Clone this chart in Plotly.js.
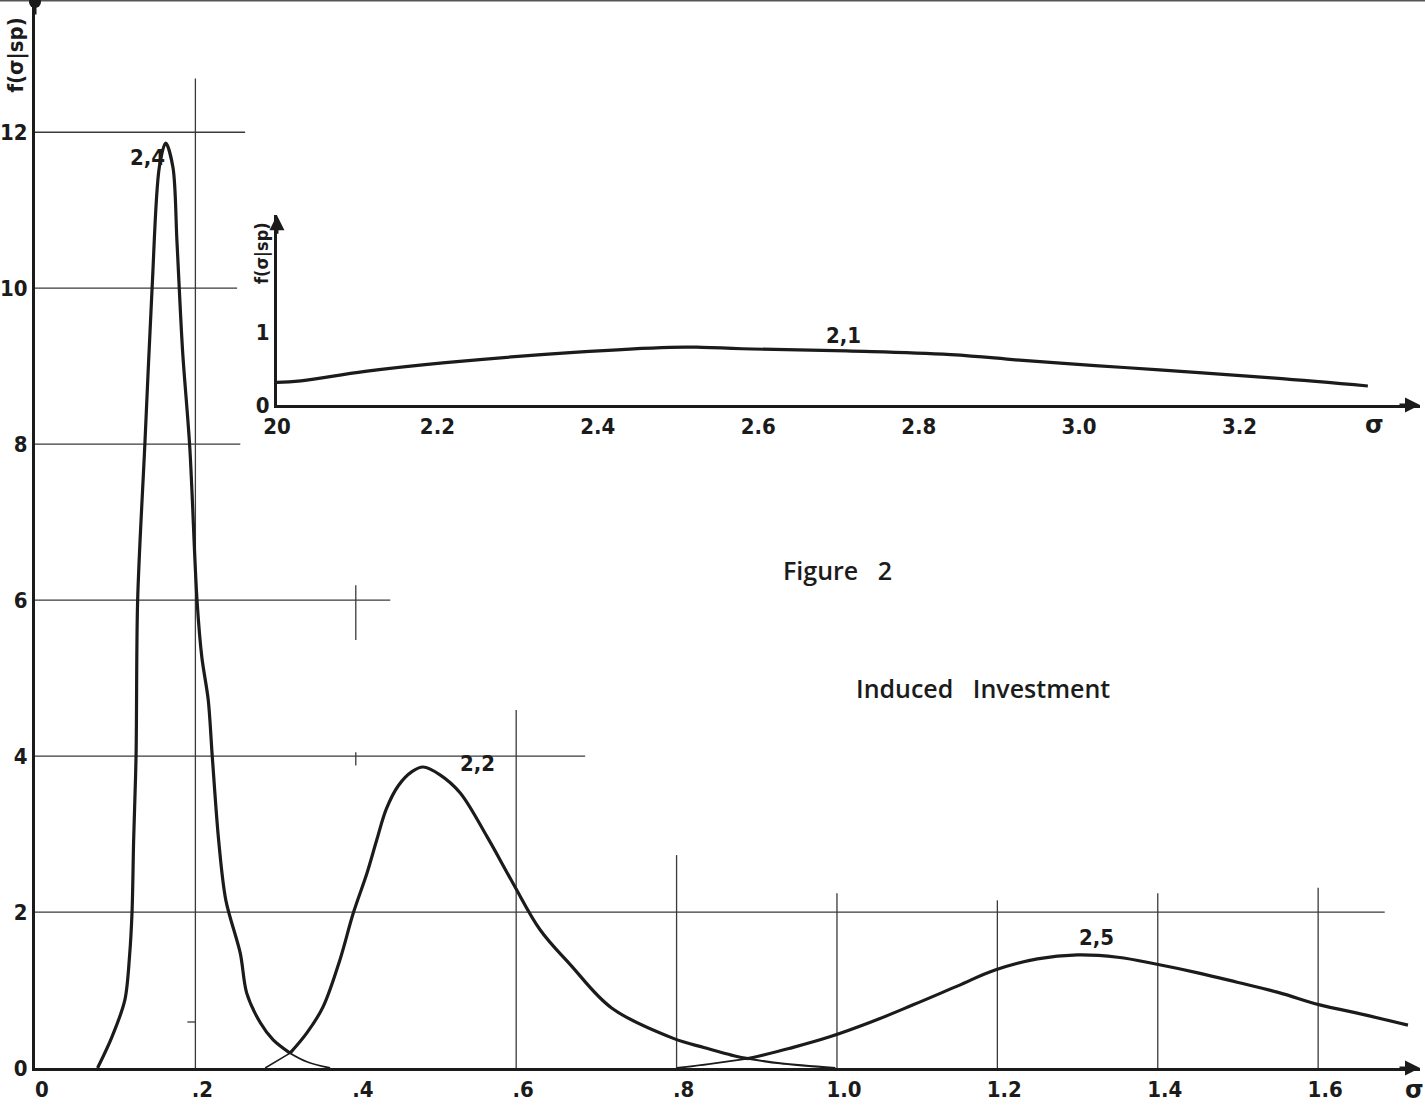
<!DOCTYPE html>
<html>
<head>
<meta charset="utf-8">
<script src="https://cdn.plot.ly/plotly-3.0.1.min.js"></script>
<style>
  html, body { margin: 0; padding: 0; background: #ffffff; }
  #chart { width: 1425px; height: 1105px; }
</style>
</head>
<body>
<div id="chart"></div>
<script>
// ---------- data ----------
// Curve 2.4 (main panel)
const x24 = [0.078, 0.096, 0.112, 0.118, 0.121, 0.123, 0.126, 0.128, 0.137, 0.146, 0.155, 0.163, 0.172, 0.177, 0.184, 0.193, 0.202, 0.208, 0.216, 0.221, 0.229, 0.238, 0.256, 0.264, 0.281, 0.297, 0.318, 0.339, 0.368];
const y24 = [0.0, 0.40, 0.87, 1.45, 2.0, 2.92, 4.0, 6.0, 8.0, 10.0, 11.55, 11.86, 11.55, 10.6, 9.2, 7.96, 6.0, 5.27, 4.72, 4.0, 2.92, 2.15, 1.47, 0.96, 0.58, 0.36, 0.19, 0.08, 0.0];
// Curve 2.2 (main panel)
const x22 = [0.287, 0.318, 0.339, 0.359, 0.380, 0.397, 0.414, 0.426, 0.438, 0.453, 0.470, 0.484, 0.505, 0.530, 0.564, 0.596, 0.630, 0.668, 0.719, 0.796, 0.835, 0.874, 0.889, 0.929, 0.998];
const y22 = [0.0, 0.19, 0.45, 0.78, 1.38, 1.99, 2.50, 2.92, 3.32, 3.62, 3.80, 3.86, 3.76, 3.53, 2.96, 2.37, 1.77, 1.32, 0.77, 0.38, 0.26, 0.15, 0.12, 0.06, 0.0];
// Curve 2.5 (main panel)
const x25 = [0.80, 0.84, 0.889, 0.94, 0.991, 1.04, 1.095, 1.15, 1.198, 1.25, 1.300, 1.35, 1.399, 1.45, 1.499, 1.55, 1.602, 1.646, 1.712];
const y25 = [0.0, 0.05, 0.12, 0.25, 0.40, 0.58, 0.81, 1.05, 1.26, 1.40, 1.45, 1.42, 1.33, 1.22, 1.10, 0.97, 0.81, 0.71, 0.55];
// Curve 2.1 (inset)
const x21 = [2.0, 2.03, 2.11, 2.21, 2.37, 2.49, 2.53, 2.58, 2.71, 2.84, 2.93, 3.02, 3.10, 3.24, 3.36];
const y21 = [0.31, 0.33, 0.46, 0.58, 0.72, 0.79, 0.79, 0.77, 0.74, 0.69, 0.61, 0.54, 0.48, 0.37, 0.26];

// tick labels
const mainXTicks = [0, 0.2, 0.4, 0.6, 0.8, 1.0, 1.2, 1.4, 1.6];
const mainXLabels = ['0', '.2', '.4', '.6', '.8', '1.0', '1.2', '1.4', '1.6'];
const mainYTicks = [0, 2, 4, 6, 8, 10, 12];
const mainYLabels = ['0', '2', '4', '6', '8', '10', '12'];
const insetXTicks = [2.0, 2.2, 2.4, 2.6, 2.8, 3.0, 3.2];
const insetXLabels = ['20', '2.2', '2.4', '2.6', '2.8', '3.0', '3.2'];
const insetYTicks = [0, 1];
const insetYLabels = ['0', '1'];

// curve labels
const curveNames = ['2,4', '2,2', '2,5', '2,1'];

// hand-drawn construction lines (value, extent)
const hGridY   = [12, 10, 8, 6, 4, 2];
const hGridEnd = [0.262, 0.252, 0.256, 0.443, 0.686, 1.683];
const vGridX   = [0.2, 0.6, 0.8, 1.0, 1.2, 1.4, 1.6];
const vGridTop = [12.69, 4.59, 2.73, 2.24, 2.15, 2.24, 2.31];

// ---------- drawing ----------
const INK = '#1b1b1b';
const GRID = '#3a3a3a';
const lblFont = {family: 'DejaVu Sans Condensed, DejaVu Sans, sans-serif', size: 22, color: INK, weight: 'bold'};
const textFont = {family: 'Open Sans, DejaVu Sans, sans-serif', size: 25, color: INK, weight: 600};

function seg(xs, ys, a, b, w, sm, axes) {
  return {
    x: xs.slice(a, b), y: ys.slice(a, b), type: 'scatter', mode: 'lines',
    line: {color: INK, width: w, shape: 'spline', smoothing: sm},
    xaxis: axes ? axes[0] : 'x', yaxis: axes ? axes[1] : 'y',
    hoverinfo: 'skip', showlegend: false
  };
}

const traces = [
  seg(x24, y24, 0, 27, 3.2, 0.9),
  seg(x24, y24, 26, x24.length, 1.8, 1.0),
  seg(x22, y22, 0, 2, 1.6, 1.0),
  seg(x22, y22, 1, 23, 3.2, 1.0),
  seg(x22, y22, 22, x22.length, 2.0, 1.0),
  seg(x25, y25, 0, 3, 1.8, 1.0),
  seg(x25, y25, 2, x25.length, 3.2, 1.2),
  seg(x21, y21, 0, x21.length, 3.2, 1.2, ['x2', 'y2'])
];

const shapes = [];
hGridY.forEach((v, i) => {
  shapes.push({type: 'line', xref: 'x', yref: 'y', x0: 0, x1: hGridEnd[i], y0: v, y1: v,
    line: {color: GRID, width: 1.3}, layer: 'below'});
});
vGridX.forEach((v, i) => {
  shapes.push({type: 'line', xref: 'x', yref: 'y', x0: v, x1: v, y0: 0, y1: vGridTop[i],
    line: {color: GRID, width: 1.3}, layer: 'below'});
});
// small crosses at .4
shapes.push({type: 'line', xref: 'x', yref: 'y', x0: 0.4, x1: 0.4, y0: 5.49, y1: 6.19, line: {color: GRID, width: 1.3}});
shapes.push({type: 'line', xref: 'x', yref: 'y', x0: 0.4, x1: 0.4, y0: 3.88, y1: 4.05, line: {color: GRID, width: 1.3}});
shapes.push({type: 'line', xref: 'x', yref: 'y', x0: 0.19, x1: 0.2, y0: 0.59, y1: 0.59, line: {color: GRID, width: 1.3}});
// scan edge at top
shapes.push({type: 'line', xref: 'paper', yref: 'paper', x0: -0.03, x1: 1.01, y0: 1.0015, y1: 1.0015, line: {color: '#555', width: 2}});

const annotations = [
  // curve labels
  {text: curveNames[0], x: 0.140, y: 11.67, xref: 'x', yref: 'y', showarrow: false, font: lblFont},
  {text: curveNames[1], x: 0.552, y: 3.90, xref: 'x', yref: 'y', showarrow: false, font: lblFont},
  {text: curveNames[2], x: 1.324, y: 1.67, xref: 'x', yref: 'y', showarrow: false, font: lblFont},
  {text: curveNames[3], x: 2.706, y: 0.95, xref: 'x2', yref: 'y2', showarrow: false, font: lblFont},
  // texts
  {text: 'Figure&nbsp;&nbsp;&nbsp;2', x: 1.001, y: 6.38, xref: 'x', yref: 'y', showarrow: false, font: textFont},
  {text: 'Induced&nbsp;&nbsp;&nbsp;Investment', x: 1.182, y: 4.87, xref: 'x', yref: 'y', showarrow: false, font: textFont},
  // axis titles
  {text: 'f(σ|sp)', xref: 'paper', yref: 'paper', x: -0.0135, y: 0.95, textangle: -90, showarrow: false,
   xanchor: 'center', yanchor: 'middle',
   font: {family: 'DejaVu Sans Condensed, sans-serif', size: 22, color: INK, weight: 'bold'}},
  {text: 'f(σ|sp)', xref: 'paper', yref: 'paper', x: 0.1635, y: 0.765, textangle: -90, showarrow: false,
   xanchor: 'center', yanchor: 'middle',
   font: {family: 'DejaVu Sans Condensed, sans-serif', size: 18, color: INK, weight: 'bold'}},
  // sigma labels
  {text: 'σ', xref: 'paper', yref: 'paper', x: 0.996, y: -0.006, showarrow: false, xanchor: 'center', yanchor: 'top',
   font: {family: 'DejaVu Sans, sans-serif', size: 24, color: INK, weight: 'bold'}},
  {text: 'σ', xref: 'paper', yref: 'paper', x: 0.9675, y: 0.618, showarrow: false, xanchor: 'center', yanchor: 'top',
   font: {family: 'DejaVu Sans, sans-serif', size: 24, color: INK, weight: 'bold'}},
  // arrows
  {text: '', xref: 'paper', yref: 'paper', x: 1.0, y: 0.0, ax: -22, ay: 0, showarrow: true,
   arrowhead: 2, arrowsize: 1, arrowwidth: 3, arrowcolor: INK},
  {text: '', xref: 'paper', yref: 'paper', x: 1.0, y: 0.622, ax: -22, ay: 0, showarrow: true,
   arrowhead: 2, arrowsize: 1, arrowwidth: 3, arrowcolor: INK},
  {text: '', xref: 'paper', yref: 'paper', x: 0.1747, y: 0.800, ax: 0, ay: 20, showarrow: true,
   arrowhead: 2, arrowsize: 1, arrowwidth: 3, arrowcolor: INK},
  {text: '', xref: 'paper', yref: 'paper', x: 0.0, y: 1.0, ax: 0, ay: 14, showarrow: true,
   arrowhead: 6, arrowsize: 1, arrowwidth: 3, arrowcolor: INK}
];

const layout = {
  width: 1425, height: 1105,
  margin: {l: 35, r: 5, t: 2, b: 37},
  paper_bgcolor: '#ffffff', plot_bgcolor: '#ffffff',
  showlegend: false,
  font: lblFont,
  xaxis: {
    domain: [0, 1], range: [0, 1.727], showgrid: false, zeroline: false,
    showline: true, linecolor: INK, linewidth: 3,
    tickmode: 'array', tickvals: mainXTicks, ticktext: mainXLabels, ticks: '',
    ticklabelshift: 7, tickfont: lblFont
  },
  yaxis: {
    domain: [0, 1], range: [0, 13.67], showgrid: false, zeroline: false,
    showline: true, linecolor: INK, linewidth: 3,
    tickmode: 'array', tickvals: mainYTicks, ticktext: mainYLabels, ticks: '',
    tickfont: lblFont
  },
  xaxis2: {
    domain: [0.1747, 1.0], range: [2.0, 3.425], anchor: 'y2', showgrid: false, zeroline: false,
    showline: true, linecolor: INK, linewidth: 3,
    tickmode: 'array', tickvals: insetXTicks, ticktext: insetXLabels, ticks: '',
    tickfont: lblFont
  },
  yaxis2: {
    domain: [0.622, 0.800], range: [0, 2.60], anchor: 'x2', showgrid: false, zeroline: false,
    showline: true, linecolor: INK, linewidth: 3,
    tickmode: 'array', tickvals: insetYTicks, ticktext: insetYLabels, ticks: '',
    tickfont: lblFont
  },
  shapes: shapes,
  annotations: annotations
};

Plotly.newPlot('chart', traces, layout, {displayModeBar: false, staticPlot: true});
</script>
</body>
</html>
